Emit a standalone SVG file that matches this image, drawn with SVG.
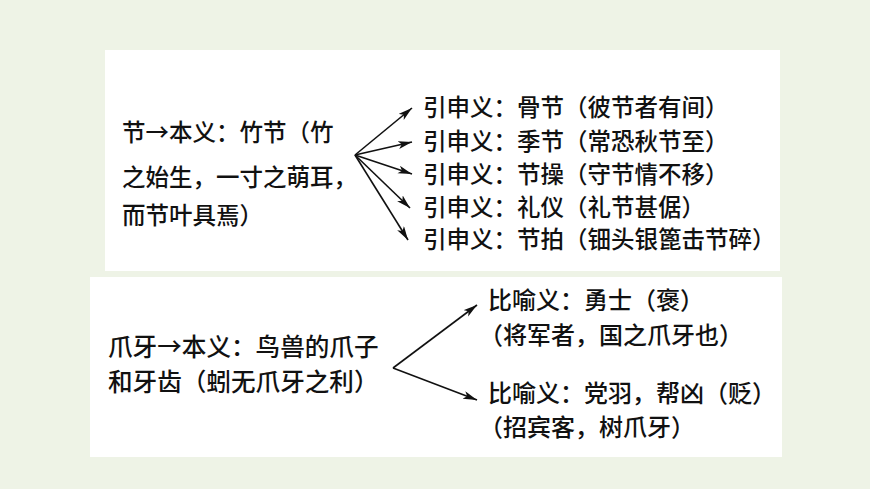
<svg xmlns="http://www.w3.org/2000/svg" width="870" height="489" viewBox="0 0 870 489">
<style>
.t{font-family:"Noto Sans CJK SC","Noto Sans CJK JP",sans-serif;font-size:24px;font-weight:500;fill:#111;}
.r{font-size:23.5px;}
.b{font-size:24.6px;}
.c{stroke:#111;stroke-width:1.6;fill:none;}
</style>
<defs>
<marker id="ah" markerUnits="userSpaceOnUse" markerWidth="16" markerHeight="10" refX="14" refY="4" orient="auto">
<path d="M0,0 L14,4 L0,8 L3.5,4 z" fill="#111"/>
</marker>
</defs>
<rect width="870" height="489" fill="#eef3e6"/>
<rect x="105" y="50" width="675" height="221" fill="#fff"/>
<rect x="90" y="277" width="692" height="180" fill="#fff"/>
<g id="node-jie">
<text class="t r" x="122" y="141">节→本义：竹节（竹</text>
<text class="t r" x="122" y="186">之始生，一寸之萌耳，</text>
<text class="t r" x="122" y="224">而节叶具焉）</text>
</g>
<g id="node-jie-1"><text class="t r" x="423" y="116">引申义：骨节（彼节者有间）</text></g>
<g id="node-jie-2"><text class="t r" x="423" y="150">引申义：季节（常恐秋节至）</text></g>
<g id="node-jie-3"><text class="t r" x="423" y="183">引申义：节操（守节情不移）</text></g>
<g id="node-jie-4"><text class="t r" x="423" y="216">引申义：礼仪（礼节甚倨）</text></g>
<g id="node-jie-5"><text class="t r" x="423" y="248">引申义：节拍（钿头银篦击节碎）</text></g>
<g id="node-zhaoya">
<text class="t b" x="108" y="356">爪牙→本义：鸟兽的爪子</text>
<text class="t b" x="108" y="391">和牙齿（蚓无爪牙之利）</text>
</g>
<g id="node-zhaoya-1">
<text class="t" x="488" y="309">比喻义：勇士（褒）</text>
<text class="t" x="479" y="344">（将军者，国之爪牙也）</text>
</g>
<g id="node-zhaoya-2">
<text class="t" x="488" y="402">比喻义：党羽，帮凶（贬）</text>
<text class="t" x="479" y="436">（招宾客，树爪牙）</text>
</g>
<g id="connectors">
<line class="c" x1="355" y1="155" x2="412" y2="108" marker-end="url(#ah)"/>
<line class="c" x1="355" y1="155" x2="412" y2="142" marker-end="url(#ah)"/>
<line class="c" x1="355" y1="155" x2="412" y2="174" marker-end="url(#ah)"/>
<line class="c" x1="355" y1="155" x2="410" y2="208" marker-end="url(#ah)"/>
<line class="c" x1="355" y1="155" x2="408" y2="240" marker-end="url(#ah)"/>
<line class="c" x1="393" y1="368" x2="477" y2="305" marker-end="url(#ah)"/>
<line class="c" x1="393" y1="368" x2="477" y2="400" marker-end="url(#ah)"/>
</g>
</svg>
